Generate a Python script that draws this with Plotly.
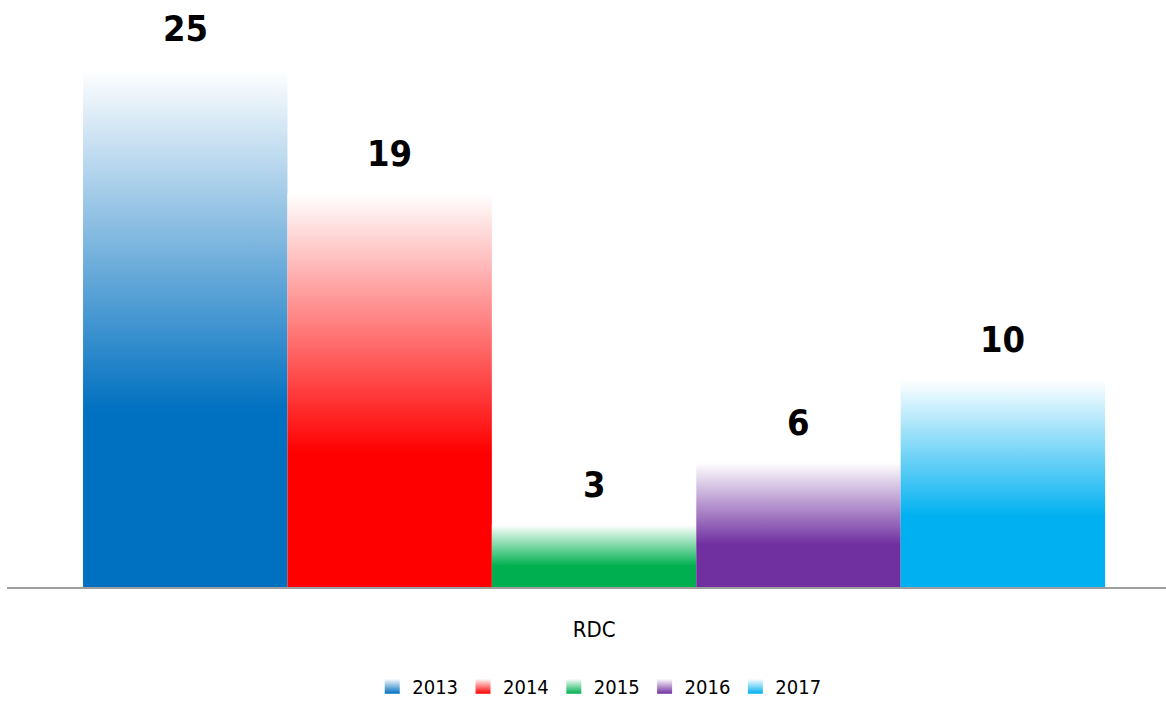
import plotly.graph_objects as go

# ── Data ───────────────────────────────────────────────────────────────────
CATEGORY = "RDC"
YEARS = ["2013", "2014", "2015", "2016", "2017"]
VALUES = [25, 19, 3, 6, 10]
COLOURS = ["#0070C0", "#FF0000", "#00B050", "#7030A0", "#00B0F0"]

FONT = "DejaVu Sans Condensed, Liberation Sans Narrow, sans-serif"
AXIS_GREY = "#9E9E9E"

fig = go.Figure()

# each year drawn as a filled box so it can carry a vertical gradient
for i, (year, val, col) in enumerate(zip(YEARS, VALUES, COLOURS)):
    fig.add_trace(
        go.Scatter(
            x=[i, i + 1, i + 1, i, i],
            y=[0, 0, val, val, 0],
            mode="none",
            fill="toself",
            fillgradient=dict(
                type="vertical",
                colorscale=[[0, col], [0.34, col], [1, "#FFFFFF"]],
            ),
            name=year,
            showlegend=False,
            hoverinfo="skip",
        )
    )
    # legend swatch: white on top fading into the year colour
    fig.add_trace(
        go.Scatter(
            x=[None],
            y=[None],
            mode="markers",
            marker=dict(
                symbol="square",
                size=15,
                color="#FFFFFF",
                gradient=dict(type="vertical", color=col),
                line=dict(width=0),
            ),
            name=year,
        )
    )
    fig.add_annotation(
        x=i + 0.5,
        y=val,
        text=str(val),
        showarrow=False,
        yanchor="bottom",
        yshift=18,
        font=dict(family=FONT, size=36, color="#000000", weight="bold"),
    )

fig.update_layout(
    width=1166,
    height=706,
    paper_bgcolor="white",
    plot_bgcolor="white",
    margin=dict(l=7, r=0, t=10, b=113),
    font=dict(family=FONT, size=22, color="#000000"),
    showlegend=True,
    legend=dict(
        orientation="h",
        x=0.511,
        xanchor="center",
        y=-0.172,
        yanchor="middle",
        font=dict(size=20),
        itemsizing="trace",
    ),
    xaxis=dict(
        range=[-0.372, 5.298],
        tickvals=[len(YEARS) / 2],
        ticktext=[CATEGORY],
        showgrid=False,
        zeroline=False,
        showline=True,
        linecolor=AXIS_GREY,
        linewidth=2,
        ticks="",
        ticklabelstandoff=22,
        fixedrange=True,
    ),
    yaxis=dict(
        range=[0, 27.87],
        visible=False,
        fixedrange=True,
    ),
)

fig.write_html(
    "out.html",
    config={"displayModeBar": False},
    post_script="document.body.style.margin='0';document.body.style.overflow='hidden';",
)
